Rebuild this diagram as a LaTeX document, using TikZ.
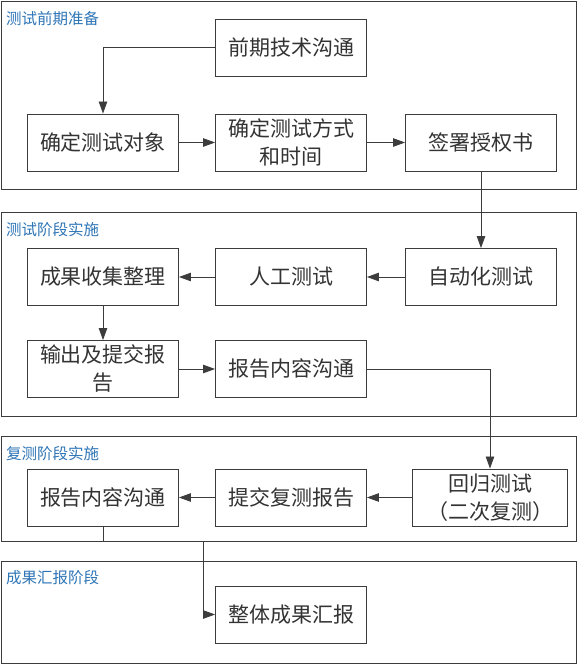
\documentclass[tikz,border=0pt]{standalone}
\usepackage{fontspec}
\setmainfont{Noto Sans CJK SC}
\usetikzlibrary{arrows.meta}
\definecolor{lbl}{RGB}{46,117,182}
\definecolor{ln}{RGB}{60,60,60}
\begin{document}
\begin{tikzpicture}[x=1pt,y=-1pt,
  panel/.style={draw=ln,line width=0.9pt},
  stage/.style={anchor=west,text=lbl,font=\fontsize{15.5}{18}\selectfont,inner sep=0pt},
  box/.style={draw=ln,line width=0.9pt,minimum width=151pt,minimum height=57pt,align=center,inner sep=0pt,font=\fontsize{21}{28}\selectfont,text=black!80},
  conn/.style={draw=ln,line width=0.8pt,-{Triangle[length=12pt,width=8.5pt]}}]
\useasboundingbox (0,0) rectangle (578,665);
% panels
\draw[panel] (1,1) rectangle (576,189);
\draw[panel] (1,212) rectangle (576,416);
\draw[panel] (1,436) rectangle (576,541);
\draw[panel] (1,561) rectangle (576,663);
\node[stage] (s1) at (6,19) {测试前期准备};
\node[stage] (s2) at (6,230) {测试阶段实施};
\node[stage] (s3) at (6,454) {复测阶段实施};
\node[stage] (s4) at (6,578) {成果汇报阶段};
% boxes
\node[box] (b1) at (291,47.5) {前期技术沟通};
\node[box] (b2) at (103,142.5) {确定测试对象};
\node[box] (b3) at (291,142.5) {确定测试方式\\和时间};
\node[box] (b4) at (481,142.5) {签署授权书};
\node[box] (c1) at (103,277) {成果收集整理};
\node[box] (c2) at (291,277) {人工测试};
\node[box] (c3) at (481,277) {自动化测试};
\node[box] (c4) at (103,369) {输出及提交报\\告};
\node[box] (c5) at (291,369) {报告内容沟通};
\node[box,minimum width=155pt] (d1) at (490,497.5) {回归测试\\（二次复测）};
\node[box] (d2) at (291,497.5) {提交复测报告};
\node[box] (d3) at (103,497.5) {报告内容沟通};
\node[box] (e1) at (291,614.5) {整体成果汇报};
% connectors
\draw[conn] (b1.west) -| (b2.north);
\draw[conn] (b2) -- (b3);
\draw[conn] (b3) -- (b4);
\draw[conn] (b4.south) -- (c3.north);
\draw[conn] (c3) -- (c2);
\draw[conn] (c2) -- (c1);
\draw[conn] (c1.south) -- (c4.north);
\draw[conn] (c4) -- (c5);
\draw[conn] (c5.east) -| (d1.north);
\draw[conn] (d1) -- (d2);
\draw[conn] (d2) -- (d3);
\coordinate (j) at (203,541);
\draw[conn] (d3.south) |- (j) |- (e1.west);
\end{tikzpicture}
\end{document}
